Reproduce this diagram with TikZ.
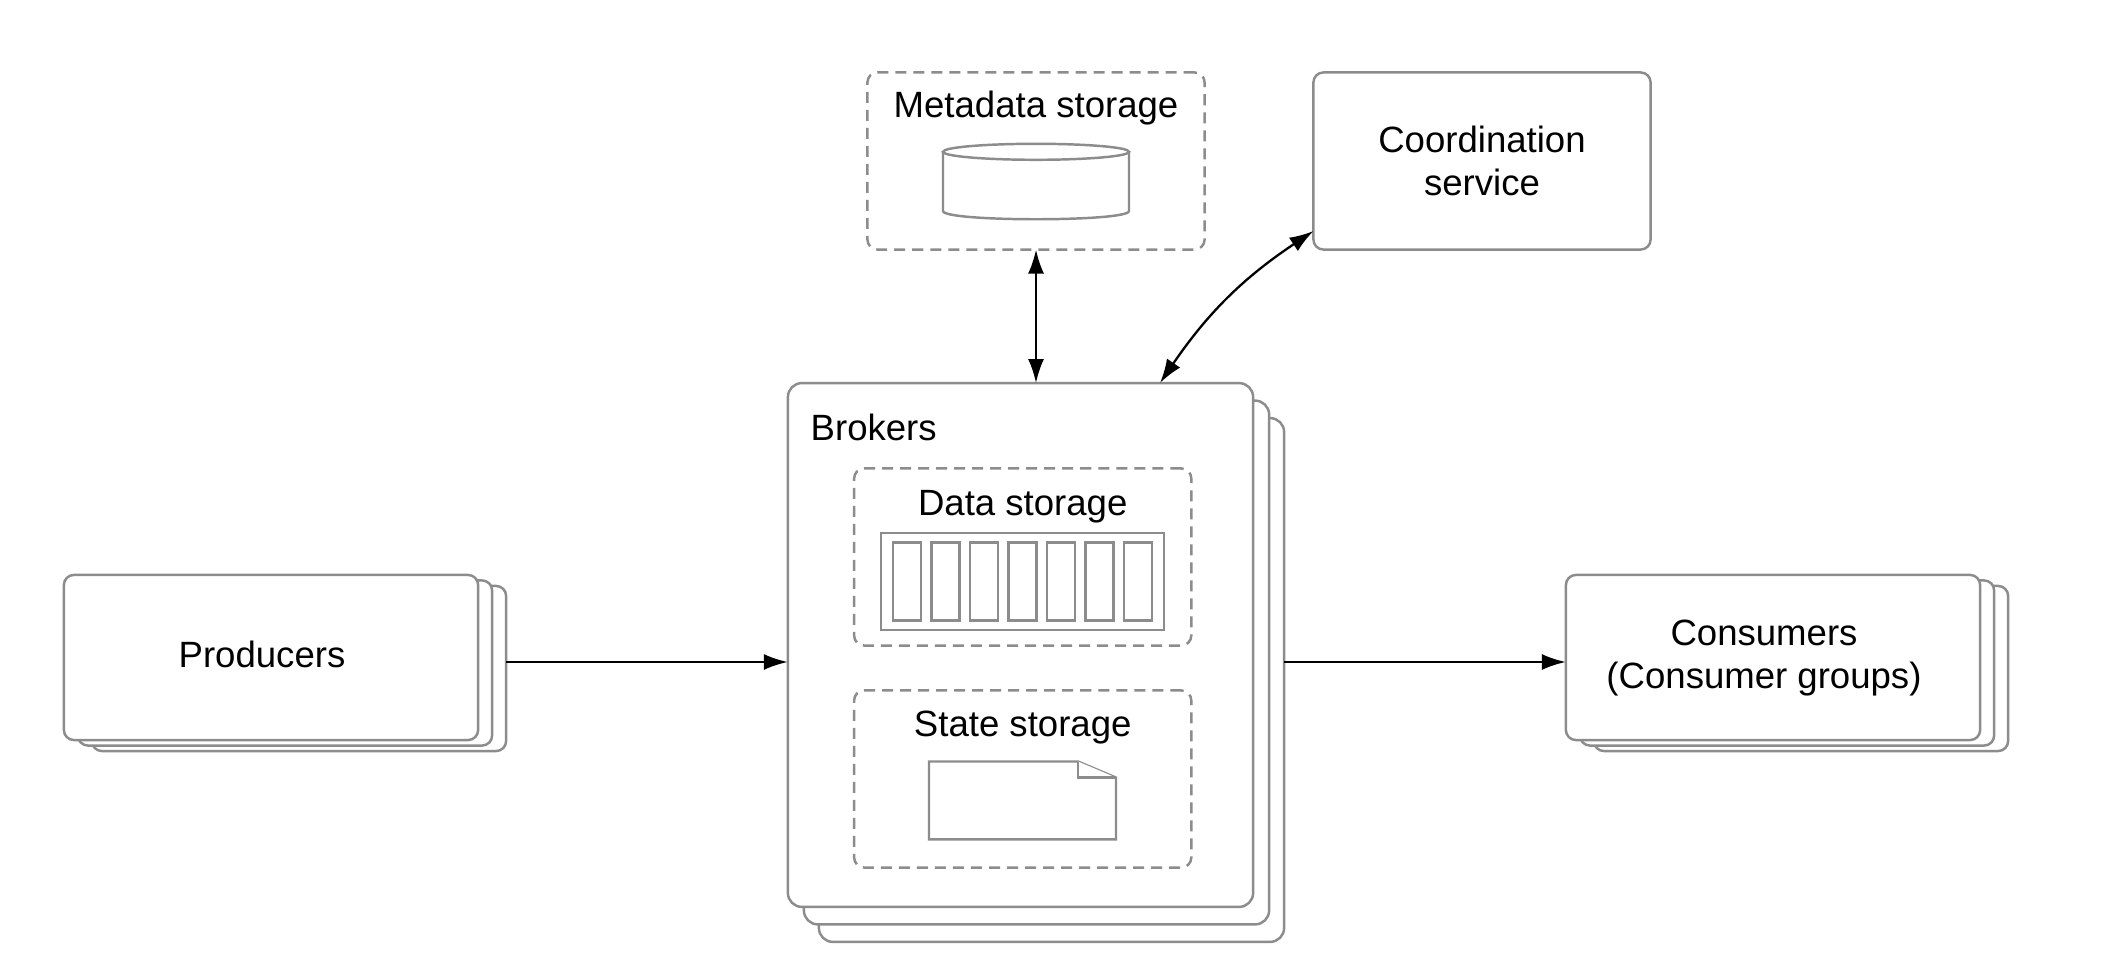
\documentclass[tikz,border=0pt]{standalone}
\usepackage{fontspec}
\setmainfont{Liberation Sans}
\usetikzlibrary{arrows.meta,calc}

\tikzset{
  panel/.style={draw=black!45,line width=0.7pt,fill=white,rounded corners=0.1cm,outer sep=0pt},
  bigpanel/.style={panel,rounded corners=0.14cm},
  dashpanel/.style={panel,dash pattern=on 0.11cm off 0.07cm},
  part/.style={draw=black!45,line width=0.7pt,fill=white},
  caption/.style={inner sep=0pt,align=center,font=\fontsize{10.4}{12.3}\selectfont},
  link/.style={draw=black,line width=0.65pt,-{Latex[length=0.24cm,width=0.16cm]}},
  duplex/.style={link,{Latex[length=0.24cm,width=0.16cm]}-{Latex[length=0.24cm,width=0.16cm]}}
}

\begin{document}
\begin{tikzpicture}[x=0.01cm,y=-0.01cm]
\useasboundingbox (0,0) rectangle (2106,964);
% stacked boxes, back to front
\foreach \k/\dx/\dy in {2/28/11,1/14/5.5,0/0/0} {
  \node[panel,minimum width=4.14cm,minimum height=1.65cm] (producers\k) at (271+\dx,657.5+\dy) {};
  \node[panel,minimum width=4.14cm,minimum height=1.65cm] (consumers\k) at (1773+\dx,657.5+\dy) {};
}
\foreach \k/\dx/\dy in {2/31/35,1/16/17.5,0/0/0} {
  \node[bigpanel,minimum width=4.65cm,minimum height=5.235cm] (brokers\k) at (1020.5+\dx,645+\dy) {};
}
\node[caption] (producerstext) at (262,654) {Producers};
\node[caption] (consumerstext) at (1764,658) {Consumers\\(Consumer groups)};
\node[caption,anchor=west] (brokerstext) at (810,427) {Brokers};
% storage boxes
\node[dashpanel,minimum width=3.37cm,minimum height=1.77cm] (metadata) at (1036,161) {};
\node[caption] (metadatatext) at (1036,108.5) {Metadata storage};
\node[panel,minimum width=3.37cm,minimum height=1.77cm] (coordination) at (1482,161) {};
\node[caption] (coordinationtext) at (1482,161) {Coordination\\service};
\node[dashpanel,minimum width=3.37cm,minimum height=1.77cm] (datastorage) at (1022.7,557) {};
\node[caption] (datatext) at (1022.7,507) {Data storage};
\node[dashpanel,minimum width=3.37cm,minimum height=1.77cm] (statestorage) at (1022.7,779) {};
\node[caption] (statetext) at (1022.7,728) {State storage};
% cylinder
\draw[part] (943,151.8) -- (943,211) .. controls (943,222) and (1129,222) .. (1129,211) -- (1129,151.8);
\draw[part] (1036,151.8) ellipse (93 and 8);
% log segments
\draw[part] (881,533) rectangle (1164,630);
\foreach \i in {0,...,6} {
  \draw[part] ({893+38.5*\i},542.6) rectangle +(28,78);
}
% document
\draw[part] (929,761.5) -- (1078,761.5) -- (1116,777.6) -- (1116,839.4) -- (929,839.4) -- cycle;
\draw[part] (1078,761.5) -- (1078,777.6) -- (1116,777.6);
% connectors
\coordinate (flow) at (0,662);
\coordinate (brokerhook) at (1160,383);
\coordinate (coordhook) at (1313.5,231);
\draw[link] (producers2.east |- flow) -- (brokers0.west |- flow);
\draw[link] (brokers2.east |- flow) -- (consumers0.west |- flow);
\draw[duplex] (metadata.south) -- (metadata.south |- brokers0.north);
\draw[duplex] (brokerhook) to[bend left=11] (coordhook);
\end{tikzpicture}
\end{document}
